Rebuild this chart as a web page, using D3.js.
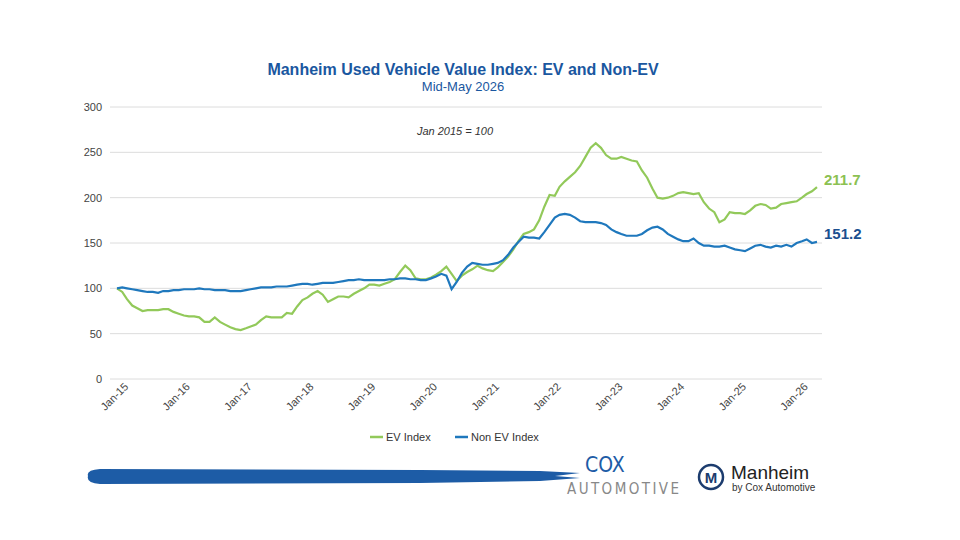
<!DOCTYPE html>
<html><head><meta charset="utf-8">
<script src="https://cdn.jsdelivr.net/npm/d3@7"></script>
<style>body{margin:0;background:#fff;font-family:"Liberation Sans",Arial,sans-serif}</style>
</head><body><div id="chart"></div>
<script>
const startMonth = new Date(2015, 0, 1);
const evIndex = [
  100, 96, 88, 81, 78, 75, 76, 76, 76, 77, 77, 74,
  72, 70, 69, 69, 68, 63, 63, 68, 63, 60, 57, 55,
  54, 56, 58, 60, 65, 69, 68, 68, 68, 73, 72, 80,
  87, 90, 94, 97, 93, 85, 88, 91, 91, 90, 94, 97,
  100, 104, 104, 103, 105, 107, 110, 118, 125, 120, 111, 110,
  110, 112, 115, 119, 124, 116, 108, 114, 118, 121, 125, 122,
  120, 119, 123, 129, 135, 143, 152, 160, 162, 165, 175, 190,
  203, 202, 212, 218, 223, 228, 235, 245, 255, 260, 255, 247,
  243, 243, 245, 243, 241, 240, 230, 222, 210, 200, 199, 200,
  202, 205, 206, 205, 204, 205, 195, 188, 184, 173, 176, 184,
  183, 183, 182, 186, 191, 193, 192, 188, 189, 193, 194, 195,
  196, 200, 204, 207, 211.7
];
const nonEvIndex = [
  100, 101, 100, 99, 98, 97, 96, 96, 95, 97, 97, 98,
  98, 99, 99, 99, 100, 99, 99, 98, 98, 98, 97, 97,
  97, 98, 99, 100, 101, 101, 101, 102, 102, 102, 103, 104,
  105, 105, 104, 105, 106, 106, 106, 107, 108, 109, 109, 110,
  109, 109, 109, 109, 109, 110, 110, 111, 111, 110, 110, 109,
  109, 111, 113, 116, 114, 99, 107, 117, 124, 128, 127, 126,
  126, 127, 128, 131, 137, 145, 151, 157, 156, 156, 155, 162,
  170, 178, 181, 182, 181, 178, 174, 173, 173, 173, 172, 170,
  165, 162, 160, 158, 158, 158, 160, 164, 167, 168, 165, 160,
  157, 154, 152, 152, 155, 150, 147, 147, 146, 146, 147, 145,
  143, 142, 141, 144, 147, 148, 146, 145, 147, 146, 148, 146,
  150, 152, 154, 150, 151.2
];
const yTicks = [0, 50, 100, 150, 200, 250, 300];

const W = 960, H = 540;
const svg = d3.select('#chart').append('svg').attr('width', W).attr('height', H);
const months = evIndex.map((d, i) => d3.timeMonth.offset(startMonth, i));

const x = d3.scaleTime().domain([startMonth, months[months.length - 1]]).range([117, 817]);
const y = d3.scaleLinear().domain([0, 300]).range([379, 107]);

svg.append('text').attr('x', 463).attr('y', 75).attr('text-anchor', 'middle')
  .attr('font-size', 16).attr('font-weight', 'bold').attr('fill', '#1a57a0')
  .text('Manheim Used Vehicle Value Index: EV and Non-EV');
svg.append('text').attr('x', 463).attr('y', 91).attr('text-anchor', 'middle')
  .attr('font-size', 13).attr('fill', '#1a57a0').text('Mid-May 2026');

// grid + y labels
svg.selectAll('.grid').data(yTicks).enter().append('line')
  .attr('x1', 110).attr('x2', 822).attr('y1', d => y(d)).attr('y2', d => y(d))
  .attr('stroke', '#dcdcdc');
svg.selectAll('.ylab').data(yTicks).enter().append('text')
  .attr('x', 102).attr('y', d => y(d) + 4).attr('text-anchor', 'end')
  .attr('font-size', 11).attr('fill', '#444').text(d => d);

// x axis
const years = d3.range(2015, 2027).map(yr => new Date(yr, 0, 1));
const xa = svg.append('g').attr('transform', 'translate(0,379)')
  .call(d3.axisBottom(x).tickValues(years).tickSize(0).tickFormat(d3.timeFormat('Jan-%y')));
xa.select('.domain').remove();
xa.selectAll('text').attr('font-size', 11).attr('fill', '#444')
  .attr('font-family', '"Liberation Sans",Arial,sans-serif')
  .attr('text-anchor', 'end').attr('transform', 'rotate(-45)').attr('dx', '0.2em').attr('dy', '1em');

svg.append('text').attr('x', 455).attr('y', 135).attr('text-anchor', 'middle')
  .attr('font-size', 11).attr('font-style', 'italic').attr('fill', '#333').text('Jan 2015 = 100');

const line = d3.line().x((d, i) => x(months[i])).y(d => y(d));
svg.append('path').datum(evIndex).attr('d', line).attr('fill', 'none')
  .attr('stroke', '#92c95a').attr('stroke-width', 2.2);
svg.append('path').datum(nonEvIndex).attr('d', line).attr('fill', 'none')
  .attr('stroke', '#1f78bd').attr('stroke-width', 2.2);

const lastX = x(months[months.length - 1]);
svg.append('text').attr('x', lastX + 7).attr('y', y(evIndex[evIndex.length - 1]) - 2)
  .attr('font-size', 15).attr('font-weight', 'bold').attr('fill', '#8cc152').text('211.7');
svg.append('text').attr('x', lastX + 7).attr('y', y(nonEvIndex[nonEvIndex.length - 1]) - 3)
  .attr('font-size', 15).attr('font-weight', 'bold').attr('fill', '#1b4f8f').text('151.2');

// legend
const legend = [['EV Index', '#92c95a', 370], ['Non EV Index', '#1f78bd', 455]];
legend.forEach(([t, c, lx]) => {
  svg.append('line').attr('x1', lx).attr('x2', lx + 13).attr('y1', 437).attr('y2', 437)
    .attr('stroke', c).attr('stroke-width', 2.5);
  svg.append('text').attr('x', lx + 16).attr('y', 441).attr('font-size', 11).attr('fill', '#333').text(t);
});

// footer branding
svg.append('path').attr('fill', '#1d5ca6')
  .attr('d', 'M88,476 Q86,470 100,469 L420,470 L540,471 L580,473 L555,476 L580,478 L540,481 L420,483 L100,484 Q86,483 88,476 Z');
svg.append('text').attr('x', 585).attr('y', 472)
  .attr('font-size', 21).attr('fill', '#1d5ca6').attr('font-family', '"DejaVu Sans Condensed",sans-serif')
  .text('COX');
svg.append('text').attr('x', 567).attr('y', 494)
  .attr('font-size', 15).attr('fill', '#888').attr('font-family', '"DejaVu Sans Condensed",sans-serif')
  .attr('textLength', 112).text('AUTOMOTIVE');
svg.append('circle').attr('cx', 711).attr('cy', 477).attr('r', 12)
  .attr('fill', '#fff').attr('stroke', '#1c3c6e').attr('stroke-width', 2.5);
svg.append('text').attr('x', 711).attr('y', 483).attr('text-anchor', 'middle')
  .attr('font-size', 15).attr('font-weight', 'bold').attr('fill', '#1c3c6e').text('M');
svg.append('text').attr('x', 731).attr('y', 479).attr('font-size', 19).attr('fill', '#222').text('Manheim');
svg.append('text').attr('x', 732).attr('y', 491).attr('font-size', 10).attr('fill', '#333').text('by Cox Automotive');
</script></body></html>
